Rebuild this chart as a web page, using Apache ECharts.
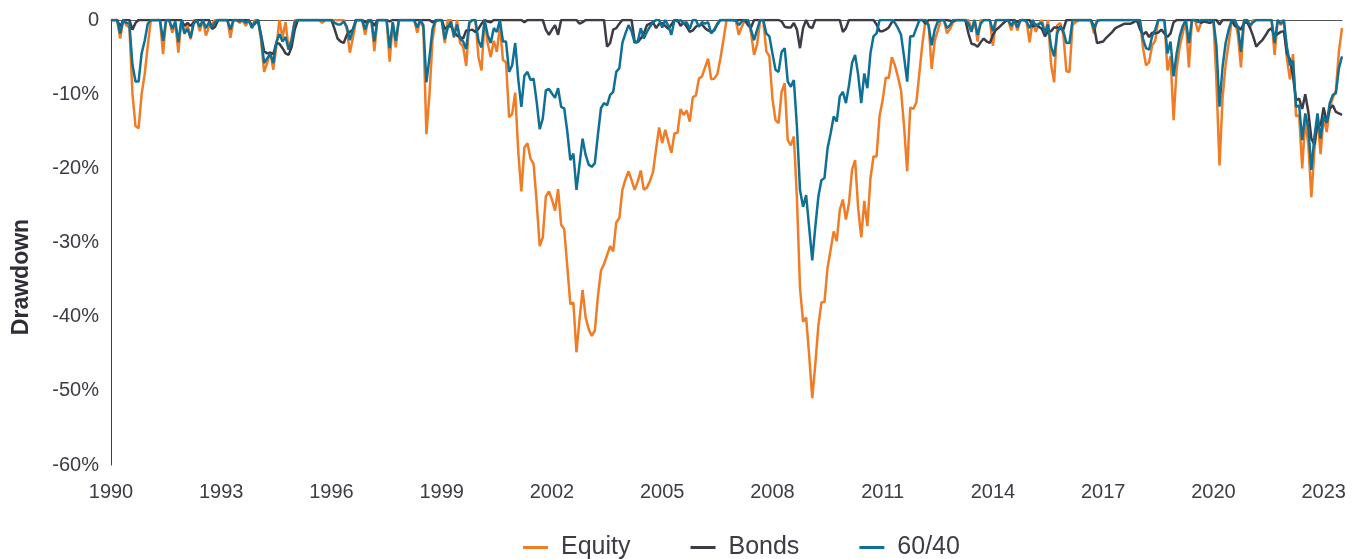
<!DOCTYPE html>
<html lang="en">
<head>
    <meta charset="UTF-8">
    <title>Drawdown</title>
    <script src="https://cdn.jsdelivr.net/npm/echarts@6/dist/echarts.min.js"></script>
    <style>
        * { margin: 0; padding: 0; box-sizing: border-box; }
        body { background: #fff; }
        #chart { width: 1357px; height: 559px; }
    </style>
</head>
<body>
    <div id="chart"></div>
    <script>
        // monthly drawdowns (%), Jan 1990 .. Jul 2023, one row per year
        const equity = [
            0, 0, 0, -2.5, 0, -0.7, -1.0, -9.9, -14.3, -14.6, -10.0, -7.3,
            -3.5, 0, 0, 0, 0, -4.6, 0, 0, -1.7, -0.4, -4.4, 0,
            -1.9, -0.6, -2.6, 0, 0, -1.5, 0, -2.1, -0.9, -0.5, 0, 0,
            0, 0, 0, -2.4, 0, 0, -0.4, 0, -0.8, 0, -0.9, 0,
            0, -2.7, -7.0, -5.8, -4.3, -6.7, -3.6, 0, -2.4, -0.3, -3.9, -2.4,
            0, 0, 0, 0, 0, 0, 0, 0, 0, -0.4, 0, 0,
            0, 0, 0, 0, 0, -1.2, -4.4, -2.4, 0, 0, 0, -2.0,
            0, 0, -4.2, 0, 0, 0, 0, -5.6, -0.4, -3.7, 0, 0,
            0, 0, 0, 0, -1.7, 0, -1.1, -15.4, -10.0, -2.7, 0, 0,
            0, -3.1, 0, 0, -2.4, 0, -3.1, -3.6, -6.2, -0.3, 0, 0,
            -5.0, -6.8, 0, -3.1, -5.0, -2.8, -4.3, -0.8, -5.4, -5.7, -13.1, -12.7,
            -9.8, -17.8, -23.1, -17.2, -16.6, -18.7, -19.4, -24.5, -30.5, -29.3, -23.8, -23.1,
            -24.2, -25.7, -22.8, -27.6, -28.2, -33.2, -38.3, -38.1, -44.8, -40.4, -36.4, -40.1,
            -41.7, -42.6, -41.9, -37.3, -33.8, -32.9, -31.7, -30.5, -31.2, -27.3, -26.7, -22.9,
            -21.5, -20.4, -21.6, -22.9, -21.8, -20.3, -22.9, -22.6, -21.7, -20.5, -17.4, -14.5,
            -16.6, -14.8, -16.4, -17.9, -15.3, -15.2, -12.0, -12.8, -12.2, -13.7, -10.4, -10.2,
            -7.9, -7.6, -6.4, -5.2, -8.0, -7.9, -7.3, -5.2, -2.7, 0, 0, 0,
            0, -2.0, -0.9, 0, 0, -1.7, -4.7, -3.3, 0, 0, -4.2, -4.9,
            -10.6, -13.5, -13.9, -9.7, -8.5, -16.2, -16.9, -15.7, -24.0, -36.1, -40.7, -40.1,
            -45.2, -51.0, -46.4, -41.2, -38.1, -38.0, -33.4, -31.0, -28.5, -29.8, -25.6, -24.2,
            -26.9, -24.7, -20.2, -18.9, -25.4, -29.3, -24.4, -27.8, -21.4, -18.4, -18.4, -12.9,
            -10.8, -7.8, -7.8, -5.0, -6.1, -7.7, -9.5, -14.4, -20.4, -11.8, -12.0, -11.1,
            -7.1, -3.1, 0, -0.6, -6.6, -2.8, -1.4, 0, 0, -1.8, -1.2, -0.3,
            0, 0, 0, 0, 0, -1.3, 0, -2.9, 0, 0, 0, 0,
            -3.5, 0, 0, 0, 0, 0, -1.4, 0, -1.4, 0, 0, -0.3,
            -3.0, 0, -1.6, -0.6, 0, -1.9, 0, -6.0, -8.4, -0.7, -0.4, -2.0,
            -6.9, -7.0, -0.7, -0.3, 0, 0, 0, 0, 0, -1.8, 0, 0,
            0, 0, 0, 0, 0, 0, 0, 0, 0, 0, 0, 0,
            0, -3.7, -6.1, -5.7, -3.4, -2.8, 0, 0, 0, -6.8, -4.9, -13.5,
            -6.6, -3.6, -1.8, 0, -6.4, 0, 0, -1.6, -0.3, 0, 0, 0,
            0, -8.4, -19.6, -10.5, -6.0, -3.1, 0, 0, -2.0, -6.4, 0, 0,
            -1.0, 0, 0, 0, 0, 0, 0, 0, -4.7, 0, -0.7, 0,
            -5.2, -8.0, -4.6, -13.0, -12.8, -20.0, -13.5, -16.8, -23.9, -17.5, -13.2, -18.1,
            -13.0, -15.1, -11.9, -10.5, -9.5, -4.2, -1.1
        ];

        const bonds = [
            0, 0, 0, -0.9, 0, 0, 0, -1.3, -0.4, 0, 0, 0,
            0, 0, 0, 0, 0, 0, 0, 0, 0, 0, 0, 0,
            -0.8, -0.4, -0.8, -0.3, 0, 0, 0, 0, 0, -1.2, -0.9, 0,
            0, 0, 0, 0, 0, 0, 0, 0, 0, 0, -0.8, -0.5,
            0, -2.0, -4.2, -4.5, -4.4, -4.6, -3.1, -3.2, -3.8, -4.5, -4.7, -3.6,
            -1.3, 0, 0, 0, 0, 0, 0, 0, 0, 0, 0, 0,
            0, -1.2, -2.5, -2.9, -3.1, -2.0, -1.6, -1.3, 0, 0, 0, -0.3,
            -0.2, -0.1, -0.8, 0, 0, 0, 0, -0.2, 0, 0, 0, 0,
            0, 0, 0, 0, 0, 0, 0, 0, 0, -0.3, -0.2, 0,
            0, -1.2, -0.9, -0.8, -1.6, -2.1, -2.3, -2.5, -1.4, -1.4, -1.3, -1.6,
            -1.2, -0.5, 0, -0.2, -0.3, 0, 0, 0, 0, 0, 0, 0,
            0, 0, 0, -0.3, 0, 0, 0, 0, 0, 0, -1.3, -2.0,
            -1.3, -0.7, -2.0, 0, 0, 0, 0, 0, 0, -0.5, -0.3, 0,
            0, 0, 0, 0, 0, 0, -3.6, -3.1, -1.3, -1.1, -0.5, 0,
            0, 0, 0, -2.9, -3.0, -2.5, -1.8, -0.7, -0.5, -0.3, -1.1, -0.5,
            -0.4, -0.8, -1.2, -0.6, 0, 0, -0.8, -0.3, -0.9, -1.6, -1.4, -0.9,
            -0.7, -0.6, -1.1, -1.4, -1.6, -1.4, -0.5, 0, 0, 0, 0, 0,
            -0.1, 0, 0, 0, -0.7, -1.0, 0, 0, 0, 0, 0, 0,
            0, 0, 0, -0.2, -0.9, -1.0, -1.0, -0.4, -1.3, -3.8, -1.1, 0,
            -0.9, -1.1, 0, 0, 0, 0, 0, 0, 0, 0, 0, -1.6,
            -1.1, 0, 0, 0, 0, 0, 0, 0, 0, 0, -0.6, -1.5,
            -1.5, -1.3, -1.0, -0.3, 0, 0, 0, 0, 0, 0, 0, 0,
            0, 0, -0.5, 0, 0, 0, 0, 0, 0, 0, -0.1, -0.2,
            0, 0, 0, 0, -1.8, -3.2, -3.3, -3.6, -3.0, -2.5, -2.9, -3.1,
            -2.0, -1.3, -1.0, -0.6, -0.2, 0, 0, 0, -0.3, 0, 0, 0,
            0, -0.9, -0.6, -0.9, -1.2, -2.2, -1.5, -1.5, -1.0, -1.0, -1.2, -1.3,
            0, 0, 0, 0, 0, 0, 0, 0, 0, -0.8, -3.1, -3.0,
            -2.9, -2.4, -2.0, -1.6, -1.1, -0.9, -0.7, -0.5, -0.5, -0.5, -0.3, 0,
            -1.2, -2.0, -1.6, -2.3, -1.7, -1.8, -1.7, -1.3, -1.8, -2.3, -1.8, -0.3,
            0, 0, 0, 0, 0, 0, 0, 0, -0.4, -0.2, -0.3, -0.4,
            0, 0, -0.6, 0, 0, 0, 0, -0.8, -0.9, -1.3, -0.4, -0.3,
            -1.1, -2.2, -3.6, -3.1, -2.7, -2.1, -1.4, -1.1, -2.2, -1.9, -1.6, -1.5,
            -4.5, -5.3, -7.6, -10.8, -10.6, -12.0, -10.0, -12.4, -16.0, -16.8, -13.8, -14.3,
            -11.8, -13.8, -12.0, -11.5, -12.4, -12.6, -12.8
        ];

        const mix6040 = [
            0, 0, 0, -1.8, 0, -0.4, -0.5, -6.0, -8.3, -8.3, -4.5, -2.8,
            -0.5, 0, 0, 0, 0, -2.8, 0, 0, -1.2, -0.2, -3.0, 0,
            -1.8, -1.2, -2.4, -0.5, 0, -0.9, 0, -1.1, -0.3, -0.9, -0.3, 0,
            0, 0, 0, -1.3, 0, 0, -0.2, 0, -0.4, 0, -1.1, -0.3,
            0, -2.2, -5.8, -5.2, -4.5, -5.8, -3.0, -1.9, -2.9, -2.3, -4.0, -2.7,
            -0.3, 0, 0, 0, 0, 0, 0, 0, 0, 0, 0, 0,
            0, -0.4, -0.6, -0.6, -0.2, -0.9, -2.7, -1.3, 0, 0, 0, -1.3,
            0, 0, -2.9, 0, 0, 0, 0, -3.8, -0.3, -2.8, 0, 0,
            0, 0, 0, 0, -1.0, 0, -0.7, -8.4, -5.0, -1.2, 0, 0,
            0, -2.6, -1.0, -0.2, -2.2, -0.6, -2.5, -2.9, -3.9, -0.4, 0, 0,
            -2.8, -3.7, 0, -2.0, -3.1, -1.1, -1.6, 0, -2.9, -2.9, -7.0, -6.1,
            -3.1, -8.0, -11.7, -7.5, -7.0, -8.1, -7.9, -11.0, -14.7, -13.3, -9.5, -9.3,
            -9.9, -10.5, -9.2, -11.7, -11.9, -15.0, -18.9, -18.0, -22.9, -19.5, -16.0, -18.2,
            -19.5, -19.8, -19.3, -15.5, -11.9, -11.2, -11.5, -10.1, -9.7, -7.0, -6.5, -3.1,
            -1.8, -0.7, -1.5, -3.1, -2.9, -1.1, -2.5, -1.6, -0.9, -0.3, 0, 0,
            -1.0, 0, -0.8, -2.0, 0, -0.2, 0, -0.5, -0.3, -1.2, 0, 0,
            -0.9, -0.3, -0.5, -0.3, -1.8, -1.3, -0.6, 0, 0, 0, 0, 0,
            0, -0.7, -0.2, 0, 0, -1.3, -2.7, -1.3, 0, 0, -1.8, -2.2,
            -4.5, -6.7, -7.0, -4.3, -3.8, -8.3, -9.0, -8.1, -14.4, -22.9, -25.2, -23.6,
            -28.0, -32.4, -27.9, -23.8, -21.6, -21.3, -17.3, -15.3, -13.0, -13.7, -10.3, -9.7,
            -11.2, -8.8, -5.8, -4.7, -7.4, -11.2, -7.2, -9.2, -4.5, -2.2, -1.8, 0,
            0, 0, 0, 0, -0.4, -1.1, -2.0, -5.0, -8.3, -2.2, -2.2, -1.1,
            0, 0, 0, -0.8, -3.4, -1.3, -0.2, 0, 0, -1.1, -0.7, 0,
            0, 0, 0, 0, -0.5, -1.6, 0, -2.0, -0.5, 0, 0, 0,
            -1.5, 0, 0, 0, 0, 0, -0.8, 0, -1.0, 0, 0, -0.2,
            -1.1, 0, -0.8, -0.5, -0.4, -1.8, -0.6, -3.6, -4.9, -1.8, -0.8, -1.5,
            -3.1, -3.1, 0, 0, 0, 0, 0, 0, 0, -1.2, -0.2, 0,
            0, 0, 0, 0, 0, 0, 0, 0, 0, 0, 0, 0,
            0, -2.5, -3.8, -4.0, -2.2, -1.3, 0, 0, 0, -4.5, -2.9, -7.6,
            -4.5, -2.2, -0.8, 0, -3.1, 0, 0, -0.3, 0, 0, 0, 0,
            0, -3.5, -11.7, -6.3, -3.1, -1.3, 0, 0, -1.0, -4.3, 0, 0,
            -0.7, -0.3, 0, 0, 0, 0, 0, 0, -3.1, 0, -0.5, 0,
            -3.6, -6.1, -5.5, -11.7, -11.5, -16.2, -12.6, -14.5, -20.2, -15.7, -12.6, -16.0,
            -13.0, -13.9, -11.2, -10.1, -9.9, -6.5, -4.9
        ];

        const seriesNames = ['Equity', 'Bonds', '60/40'];
        const seriesColors = ['#f07c26', '#3d3c46', '#0f7096'];
        const yearTicks = ['1990', '1993', '1996', '1999', '2002', '2005', '2008', '2011', '2014', '2017', '2020', '2023'];
        const startYear = 1990;

        // month categories like 1990-01
        const months = [];
        for (let i = 0; i < equity.length; i++) {
            const y = startYear + Math.floor(i / 12);
            const m = (i % 12) + 1;
            months.push(y + '-' + (m < 10 ? '0' + m : m));
        }

        const font = 'Liberation Sans, Arial, sans-serif';
        const textColor = '#3c3c44';

        const chart = echarts.init(document.getElementById('chart'));

        const makeSeries = (name, data, color) => ({
            name: name,
            type: 'line',
            data: data,
            symbol: 'none',
            lineStyle: { width: 2.5, color: color },
            itemStyle: { color: color },
            emphasis: { disabled: true },
            animation: false
        });

        const option = {
            animation: false,
            grid: { left: 111, right: 15, top: 20, bottom: 94 },
            legend: {
                data: seriesNames,
                left: 518,
                top: 530,
                icon: 'rect',
                itemWidth: 25,
                itemHeight: 3,
                itemGap: 60,
                textStyle: { fontFamily: font, fontSize: 25, color: textColor, padding: [0, 0, 0, 8] }
            },
            xAxis: [
                {
                    type: 'category',
                    data: months,
                    boundaryGap: false,
                    axisLine: { show: false, onZero: false },
                    axisTick: { show: false },
                    axisLabel: {
                        interval: (idx, val) => val.endsWith('-01') && yearTicks.includes(val.slice(0, 4)),
                        formatter: (val) => val.slice(0, 4),
                        fontFamily: font,
                        fontSize: 20,
                        color: textColor,
                        margin: 17
                    },
                    splitLine: { show: false }
                },
                {
                    type: 'category',
                    data: months,
                    position: 'top',
                    boundaryGap: false,
                    axisLine: { show: true, onZero: false, lineStyle: { color: '#55555e', width: 1 } },
                    axisTick: { show: false },
                    axisLabel: { show: false },
                    splitLine: { show: false }
                }
            ],
            yAxis: {
                type: 'value',
                min: -60,
                max: 0,
                interval: 10,
                axisLine: { show: true, lineStyle: { color: '#3c3c44', width: 1 } },
                axisTick: { show: false },
                splitLine: { show: false },
                axisLabel: {
                    formatter: (v) => (v === 0 ? '0' : v + '%'),
                    fontFamily: font,
                    fontSize: 20,
                    color: textColor,
                    margin: 12
                }
            },
            graphic: [
                {
                    type: 'text',
                    x: 22,
                    y: 277,
                    rotation: Math.PI / 2,
                    style: {
                        text: 'Drawdown',
                        fontFamily: font,
                        fontSize: 23,
                        fontWeight: 'bold',
                        fill: '#2e2e36',
                        align: 'center',
                        verticalAlign: 'middle'
                    }
                }
            ],
            series: [
                makeSeries(seriesNames[0], equity, seriesColors[0]),
                makeSeries(seriesNames[1], bonds, seriesColors[1]),
                makeSeries(seriesNames[2], mix6040, seriesColors[2])
            ]
        };

        chart.setOption(option);
    </script>
</body>
</html>
